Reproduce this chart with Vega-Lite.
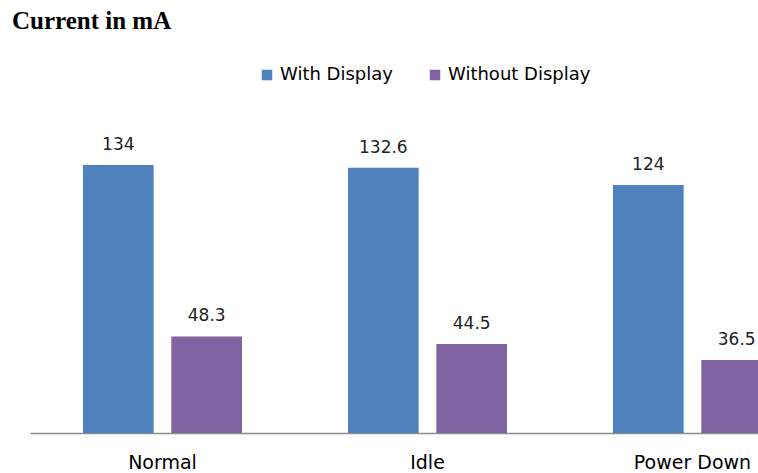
{
  "$schema": "https://vega.github.io/schema/vega-lite/v6.json",
  "autosize": "none",
  "width": 795,
  "height": 320,
  "padding": {"left": 30, "top": 113, "right": 0, "bottom": 40},
  "background": "white",
  "title": {
    "text": "Current in mA",
    "anchor": "start",
    "frame": "group",
    "dx": -18,
    "offset": 32,
    "font": "Liberation Serif",
    "fontSize": 25,
    "fontWeight": "bold",
    "color": "#000000"
  },
  "data": {
    "values": [
      {"mode": "Normal", "series": "With Display", "value": 134},
      {"mode": "Normal", "series": "Without Display", "value": 48.3},
      {"mode": "Idle", "series": "With Display", "value": 132.6},
      {"mode": "Idle", "series": "Without Display", "value": 44.5},
      {"mode": "Power Down", "series": "With Display", "value": 124},
      {"mode": "Power Down", "series": "Without Display", "value": 36.5}
    ]
  },
  "encoding": {
    "x": {
      "field": "mode",
      "type": "nominal",
      "sort": ["Normal", "Idle", "Power Down"],
      "scale": {"paddingInner": 0.4, "paddingOuter": 0.2},
      "axis": {
        "title": null,
        "labelAngle": 0,
        "ticks": false,
        "labelPadding": 20,
        "labelFont": "DejaVu Sans",
        "labelFontSize": 19,
        "labelColor": "#000000",
        "domainColor": "#8c8c8c",
        "domainWidth": 1.5,
        "grid": false
      }
    },
    "xOffset": {
      "field": "series",
      "type": "nominal",
      "scale": {"paddingInner": 0.2, "paddingOuter": 0}
    },
    "y": {
      "field": "value",
      "type": "quantitative",
      "scale": {"domain": [0, 160]},
      "axis": null
    }
  },
  "layer": [
    {
      "mark": {"type": "bar"},
      "encoding": {
        "color": {
          "field": "series",
          "type": "nominal",
          "scale": {"domain": ["With Display", "Without Display"], "range": ["#4F81BD", "#8064A2"]},
          "legend": {
            "title": null,
            "orient": "none",
            "direction": "horizontal",
            "legendX": 228,
            "legendY": -47,
            "symbolType": "square",
            "symbolSize": 110,
            "symbolStrokeWidth": 0,
            "labelFont": "DejaVu Sans",
            "labelFontSize": 18,
            "labelColor": "#000000",
            "labelOffset": 4,
            "columnPadding": 33
          }
        }
      }
    },
    {
      "mark": {"type": "text", "dy": -20, "font": "DejaVu Sans", "fontSize": 17, "color": "#222222"},
      "encoding": {"text": {"field": "value", "type": "quantitative"}}
    }
  ],
  "config": {"view": {"stroke": null}}
}
